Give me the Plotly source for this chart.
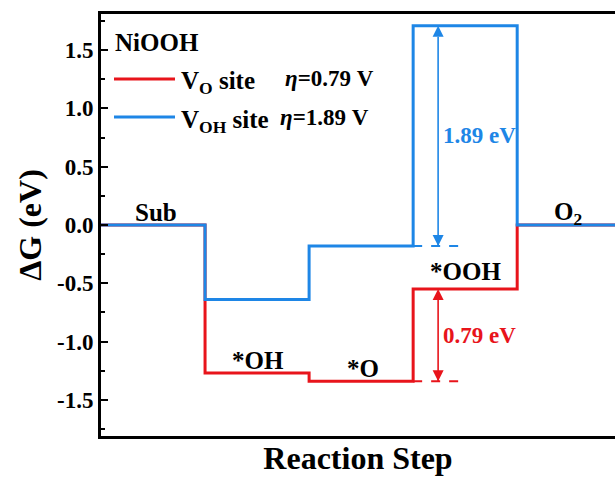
import plotly.graph_objects as go

# ---- data ----
steps = ["Sub", "*OH", "*O", "*OOH", "O<sub>2</sub>"]
step_edges = [0, 1, 2, 3, 4, 5]
vo_site = [0.0, -1.27, -1.34, -0.55, 0.0]      # V_O site (red)
voh_site = [0.0, -0.64, -0.18, 1.71, 0.0]      # V_OH site (blue)
eta_vo = 0.79
eta_voh = 1.89
y_ticks = [-1.5, -1.0, -0.5, 0.0, 0.5, 1.0, 1.5]
y_tick_text = ["-1.5", "-1.0", "-0.5", "0.0", "0.5", "1.0", "1.5"]

RED = "#e8141b"
BLUE = "#1e86e6"
FONT = "Liberation Serif"

def step_xy(levels):
    return step_edges, levels + [levels[-1]]

fig = go.Figure()
for levels, color in [(vo_site, RED), (voh_site, BLUE)]:
    x, y = step_xy(levels)
    fig.add_trace(go.Scatter(x=x, y=y, mode="lines", line=dict(color=color, width=3, shape="hv"),
                             showlegend=False, hoverinfo="skip"))

# dashed reference lines and double arrows for the potential-determining step
for levels, color, i_lo, i_hi in [(voh_site, BLUE, 2, 3), (vo_site, RED, 2, 3)]:
    lo, hi = levels[i_lo], levels[i_hi]
    fig.add_trace(go.Scatter(x=[step_edges[3], step_edges[3] + 0.46], y=[lo, lo], mode="lines",
                             line=dict(color=color, width=2, dash="dash"), showlegend=False, hoverinfo="skip"))
    ax = step_edges[3] + 0.24
    fig.add_trace(go.Scatter(x=[ax, ax], y=[lo, hi], mode="lines+markers",
                             line=dict(color=color, width=1.6),
                             marker=dict(symbol=["arrow-down", "arrow-up"], size=11, color=color,
                                         line=dict(width=0)),
                             showlegend=False, hoverinfo="skip"))
    fig.add_annotation(x=step_edges[3] + 0.64, y=(lo + hi) / 2, xref="x", yref="y",
                       xanchor="center", yanchor="middle",
                       text=f"<b>{hi - lo:.2f} eV</b>", showarrow=False,
                       font=dict(family=FONT, size=23, color=color))

# step labels
label_pos = [(0.53, 0.11), (1.51, -1.165), (2.52, -1.23), (3.5, -0.40), (4.49, 0.10)]
for name, (lx, ly) in zip(steps, label_pos):
    fig.add_annotation(x=lx, y=ly, xref="x", yref="y", xanchor="center", yanchor="middle",
                       text=f"<b>{name}</b>", showarrow=False,
                       font=dict(family=FONT, size=25, color="#000000"))

# legend (manual)
def px_x(p):
    return (p - 101) / 514
def px_y(p):
    return (436 - p) / 422

fig.add_annotation(x=px_x(113), y=px_y(42), xref="paper", yref="paper", xanchor="left", yanchor="middle",
                   text="<b>NiOOH</b>", showarrow=False, font=dict(family=FONT, size=25, color="#000000"))
for color, row_y, site, eta, eta_x in [(RED, 79, "V<sub>O</sub> site", eta_vo, 283),
                                       (BLUE, 117, "V<sub>OH</sub> site", eta_voh, 278)]:
    fig.add_shape(type="line", xref="paper", yref="paper", x0=px_x(114), x1=px_x(175),
                  y0=px_y(row_y), y1=px_y(row_y), line=dict(color=color, width=3))
    fig.add_annotation(x=px_x(179), y=px_y(row_y + 4), xref="paper", yref="paper",
                       xanchor="left", yanchor="middle",
                       text=f"<b>{site}</b>", showarrow=False, font=dict(family=FONT, size=25, color="#000000"))
    fig.add_annotation(x=px_x(eta_x), y=px_y(row_y), xref="paper", yref="paper",
                       xanchor="left", yanchor="middle",
                       text=f"<b><i>η</i>={eta:.2f} V</b>", showarrow=False,
                       font=dict(family=FONT, size=23, color="#000000"))

fig.update_layout(
    width=615, height=480,
    margin=dict(l=101, r=0, t=14, b=44),
    plot_bgcolor="white", paper_bgcolor="white",
    font=dict(family=FONT, color="black"),
    showlegend=False,
)
fig.update_xaxes(range=[0, 4.94], showgrid=False, zeroline=False, showticklabels=False, ticks="",
                 showline=True, linecolor="black", linewidth=3, mirror=True,
                 title=dict(text="<b>Reaction Step</b>", font=dict(family=FONT, size=32), standoff=9))
fig.update_yaxes(range=[-1.81, 1.81], showgrid=False, zeroline=False,
                 tickvals=y_ticks, ticktext=y_tick_text, ticks="inside", ticklen=7, tickwidth=2,
                 tickcolor="black", tickfont=dict(family=FONT, size=23, weight="bold"),
                 minor=dict(tickvals=[-1.75, -1.25, -0.75, -0.25, 0.25, 0.75, 1.25, 1.75],
                            ticks="inside", ticklen=4, tickwidth=2, tickcolor="black"),
                 showline=True, linecolor="black", linewidth=3, mirror=False,
                 title=dict(text="<b>ΔG (eV)</b>", font=dict(family=FONT, size=32), standoff=6))

fig.write_html("out.html")
